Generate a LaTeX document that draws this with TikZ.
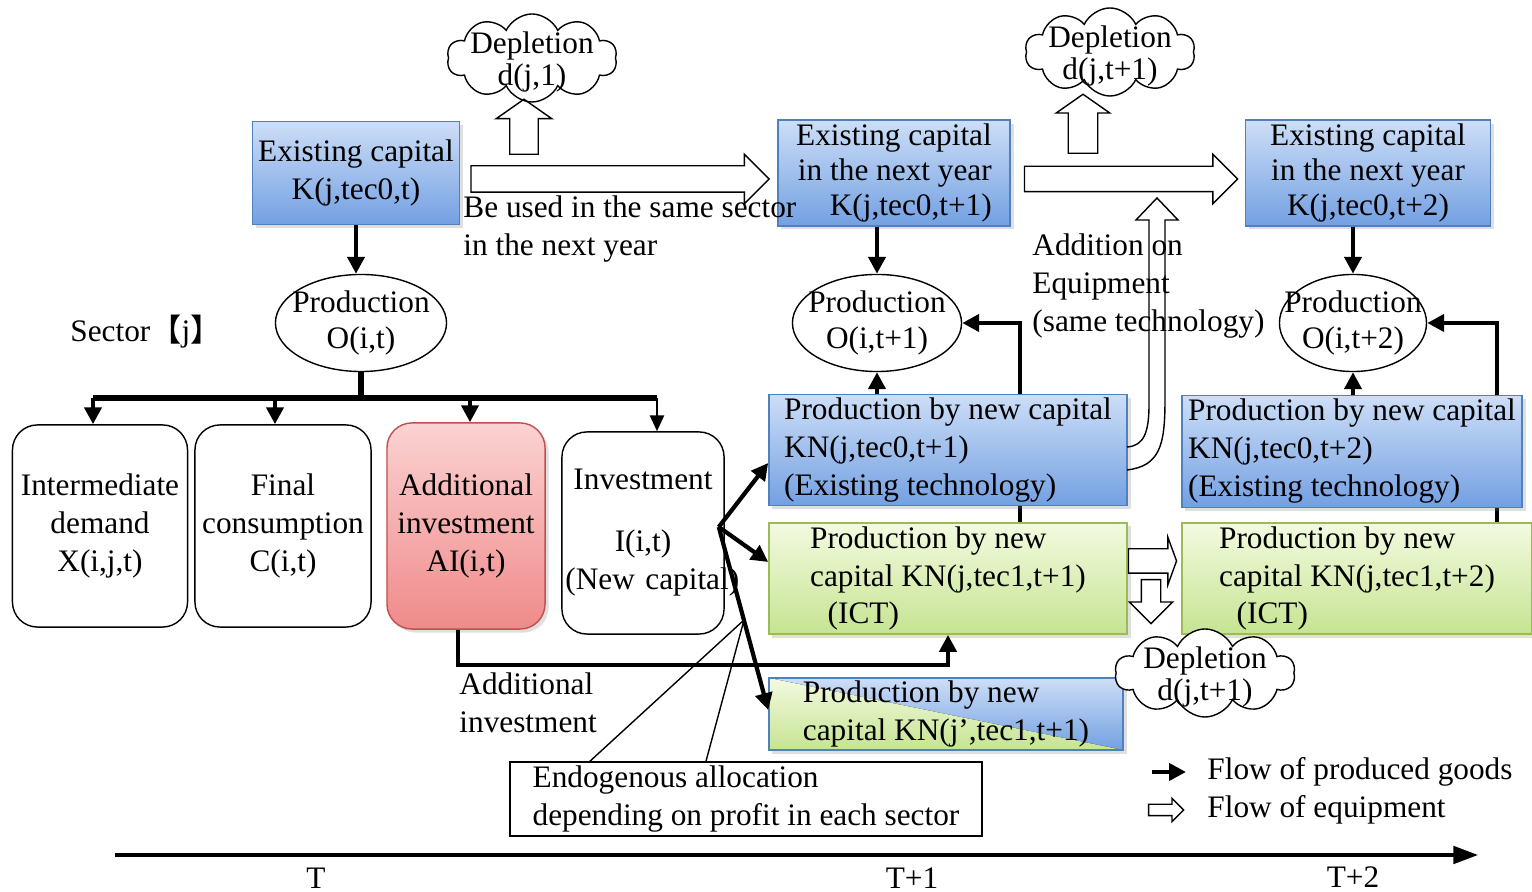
\documentclass[tikz,border=0pt]{standalone}
\usepackage{fontspec}
\setmainfont{Liberation Serif}
\newfontfamily\cjk{Noto Sans CJK SC}
\usetikzlibrary{arrows.meta,shapes.geometric,shapes.symbols,shapes.arrows,backgrounds,shadows,calc}

\definecolor{captop}{RGB}{205,222,247}
\definecolor{capbot}{RGB}{115,160,226}
\definecolor{capedge}{RGB}{79,129,189}
\definecolor{icttop}{RGB}{243,250,224}
\definecolor{ictbot}{RGB}{198,228,146}
\definecolor{ictedge}{RGB}{155,187,89}
\definecolor{addtop}{RGB}{251,210,210}
\definecolor{addbot}{RGB}{240,138,138}
\definecolor{addedge}{RGB}{192,80,77}

\tikzset{
  softshadow/.style={drop shadow={opacity=0.25, shadow xshift=1pt, shadow yshift=-1pt}},
  capbox/.style={draw=capedge, top color=captop, bottom color=capbot, minimum height=1.03cm,
    inner sep=1pt, align=center, font=\fontsize{8.9}{10}\selectfont, softshadow},
  newbox/.style={draw=capedge, top color=captop, bottom color=capbot, align=left, inner sep=1pt, softshadow},
  ictbox/.style={draw=ictedge, top color=icttop, bottom color=ictbot, align=left, inner sep=1pt, softshadow},
  usebox/.style={draw, rounded corners=0.25cm, align=center, inner sep=1pt, minimum height=2.02cm},
  prodell/.style={ellipse, draw, fill=white, inner sep=0pt, minimum height=0.97cm},
  prodtxt/.style={align=center, font=\fontsize{8.9}{10}\selectfont},
  depcloud/.style={cloud, cloud puffs=10, cloud puff arc=130, cloud ignores aspect, draw, inner sep=0pt,
    minimum width=1.7cm, minimum height=0.88cm},
  cloudtxt/.style={align=center, font=\fontsize{8.9}{9.2}\selectfont, yshift=-0.04cm},
  hollow/.style={single arrow, draw, fill=white, inner xsep=0pt, minimum width=0pt},
  goods/.style={line width=1.2pt, -{Triangle[width=4.8pt,length=4.8pt]}},
  thingoods/.style={line width=0.6pt, -{Triangle[width=4pt,length=4.5pt]}},
}

\begin{document}
\begin{tikzpicture}[x=0.01cm, y=-0.01cm, font=\fontsize{8.9}{10.8}\selectfont]
  \useasboundingbox (0,0) rectangle (1532,892);

  % existing capital in three years
  \node[capbox, font=\fontsize{8.9}{10.8}\selectfont, minimum width=2.07cm] (K1) at (356,173) {Existing capital\\K(j,tec0,t)};
  \node[capbox, align=right, minimum width=2.32cm] (K2) at (894,173) {Existing capital\\in the next year\\K(j,tec0,t+1)};
  \node[capbox, minimum width=2.45cm] (K3) at (1368,173) {Existing capital\\in the next year\\K(j,tec0,t+2)};

  % production
  \node[prodell, minimum width=1.71cm, label={[prodtxt]center:{Production\\O(i,t)}}] (P1) at (361,323) {};
  \node[prodell, minimum width=1.69cm, label={[prodtxt]center:{Production\\O(i,t+1)}}] (P2) at (877,323) {};
  \node[prodell, minimum width=1.47cm, label={[prodtxt]center:{Production\\O(i,t+2)}}] (P3) at (1353,323) {};

  \node (sector) at (146,332) {Sector{\cjk 【}j{\cjk 】}};

  % uses of production in year t
  \node[usebox, minimum width=1.75cm] (ID) at (100,526) {Intermediate\\demand\\X(i,j,t)};
  \node[usebox, minimum width=1.76cm] (FC) at (283,526) {Final\\consumption\\C(i,t)};
  \node[usebox, draw=addedge, top color=addtop, bottom color=addbot, minimum width=1.58cm,
    minimum height=2.06cm, softshadow] (AI) at (466,526) {Additional\\investment\\AI(i,t)};
  \node[usebox, text width=1.55cm] (IN) at (643,533) {Investment\\[6.8pt]I(i,t)\\\mbox{(New capital)}};

  % new capital
  \node[newbox, minimum width=3.58cm, minimum height=1.09cm] (KN1) at (948,450) {Production by new capital\\KN(j,tec0,t+1)\\(Existing technology)};
  \node[ictbox, minimum width=3.58cm, minimum height=1.01cm] (ICT1) at (948,578.5) {Production by new\\capital KN(j,tec1,t+1)\\\hspace*{5pt}(ICT)};
  \node[newbox, minimum width=3.40cm, minimum height=1.07cm] (KN2) at (1352,451.5) {Production by new capital\\KN(j,tec0,t+2)\\(Existing technology)};
  \node[ictbox, minimum width=3.50cm, minimum height=1.01cm] (ICT2) at (1357,578.5) {Production by new\\capital KN(j,tec1,t+2)\\\hspace*{5pt}(ICT)};
  \node[newbox, minimum width=3.54cm, minimum height=0.72cm, inner ysep=0pt,
    path picture={\fill[top color=icttop, bottom color=ictbot]
      (path picture bounding box.north west) -- (path picture bounding box.south east)
      -- (path picture bounding box.south west) -- cycle;}] (MX) at (946,714) {Production by new\\capital KN(j’,tec1,t+1)};

  % flow of equipment
  \node[hollow, minimum height=2.98cm, inner ysep=0.125cm, single arrow head extend=0.115cm,
    anchor=tail] (keep1) at ([xshift=0.1cm, yshift=-0.06cm]K1.east) {};
  \node[hollow, minimum height=2.13cm, inner ysep=0.12cm, single arrow head extend=0.12cm,
    anchor=tail] (keep2) at ([xshift=0.13cm, yshift=-0.06cm]K2.east) {};
  \node[hollow, rotate=90, minimum height=0.55cm, inner ysep=0.135cm, single arrow head extend=0.135cm,
    single arrow tip angle=110, anchor=tail] (dep1arr) at (524,155) {};
  \node[hollow, rotate=90, minimum height=0.59cm, inner ysep=0.14cm, single arrow head extend=0.12cm,
    single arrow tip angle=110, anchor=tail] (dep2arr) at (1083,154) {};
  \node[hollow, minimum height=0.48cm, inner ysep=0.115cm, single arrow head extend=0.115cm,
    single arrow tip angle=140, anchor=tail] (ictkeep) at ([yshift=0.175cm]ICT1.east) {};
  \node[hollow, rotate=-90, minimum height=0.44cm, inner ysep=0.09cm, single arrow head extend=0.12cm,
    anchor=tail] (ictdep) at (1151,579) {};

  % equipment added with the same technology
  \draw (1127,470) .. controls (1160,466) and (1165,445) .. (1165,400) -- (1165,220) -- (1178,220)
    -- (1157,198) -- (1136,220) -- (1149,220) -- (1149,405) .. controls (1149,432) and (1144,446) .. (1127,447);

  % depletion
  \node[depcloud, label={[cloudtxt]center:{Depletion\\d(j,1)}}] (D1) at (532,58) {};
  \node[depcloud, label={[cloudtxt]center:{Depletion\\d(j,t+1)}}] (D2) at (1110,52) {};
  \node[depcloud, fill=white, minimum width=1.8cm, label={[cloudtxt]center:{Depletion\\d(j,t+1)}}] (D3) at (1205,673) {};

  % texts on the flows
  \node[anchor=west, align=left] (sameuse) at (451,229) {Be used in the same sector\\in the next year};
  \node[anchor=west, align=left] (addeq) at (1020,286) {Addition on\\Equipment\\(same technology)};
  \node[anchor=west, align=left] (addinv) at (447,703) {Additional\\investment};

  % flow of produced goods
  \draw[goods] (K1.south) -- (K1.south |- P1.north);
  \draw[goods] (K2.south -| P2.north) -- (P2.north);
  \draw[goods] (K3.south -| P3.north) -- (P3.north);
  \coordinate (split) at (361,398);
  \draw[line width=1.5pt] (P1.south) -- (split);
  \draw[line width=1.5pt] ([xshift=-0.07cm]ID.north |- split) -- ([xshift=0.14cm]IN.north |- split);
  \foreach \n/\dx in {ID/-0.07, FC/-0.08, AI/0.04}
    \draw[goods] ([xshift=\dx cm]\n.north |- split) -- ([xshift=\dx cm]\n.north);
  \draw[thingoods] ([xshift=0.14cm]IN.north |- split) -- ([xshift=0.14cm]IN.north);
  \draw[goods] (KN1.north -| P2.south) -- (P2.south);
  \draw[goods] (KN2.north -| P3.south) -- (P3.south);
  \begin{scope}[on background layer]
    \draw[goods] ([xshift=0.72cm]ICT1.north) |- (P2.east);
    \draw[goods] ([xshift=1.4cm]ICT2.north) |- (P3.east);
  \end{scope}

  % allocation of new capital
  \node[draw, fill=white, align=left, minimum width=4.72cm, minimum height=0.74cm, inner sep=1pt] (alloc) at (746,799) {Endogenous allocation\\depending on profit in each sector};
  \coordinate (allocpt) at (744,620);
  \draw[line width=0.4pt] ([xshift=-1.56cm]alloc.north) -- (allocpt) -- ([xshift=-0.4cm]alloc.north);
  \coordinate (fork) at ([xshift=-0.06cm, yshift=0.06cm]IN.east);
  \draw[goods] (fork) -- ([yshift=-0.13cm]KN1.west);
  \draw[goods] (fork) -- ([yshift=0.165cm]ICT1.west);
  \draw[goods] (fork) -- ([yshift=0.04cm]MX.west);
  \coordinate (aiturn) at (458,665);
  \draw[goods] (AI.south -| aiturn) -- (aiturn) -| (ICT1.south);

  % legend
  \node[anchor=west] (lgGoods) at (1195,772) {Flow of produced goods};
  \node[anchor=west] (lgEquip) at (1195,810) {Flow of equipment};
  \draw[goods] ([xshift=-0.43cm]lgGoods.west) -- ([xshift=-0.09cm]lgGoods.west);
  \node[hollow, minimum height=0.35cm, inner ysep=0.05cm, single arrow head extend=0.06cm,
    anchor=tail] (lgArrow) at ([xshift=-0.47cm]lgEquip.west) {};

  % timeline
  \coordinate (tl0) at (115,855);
  \coordinate (tl1) at (1478,855);
  \draw[line width=0.9pt, -{Triangle[width=5pt,length=7pt]}] (tl0) -- (tl1);
  \node (tT) at (316,878) {T};
  \node (tT1) at (912,878) {T+1};
  \node (tT2) at (1353,877) {T+2};
\end{tikzpicture}
\end{document}
